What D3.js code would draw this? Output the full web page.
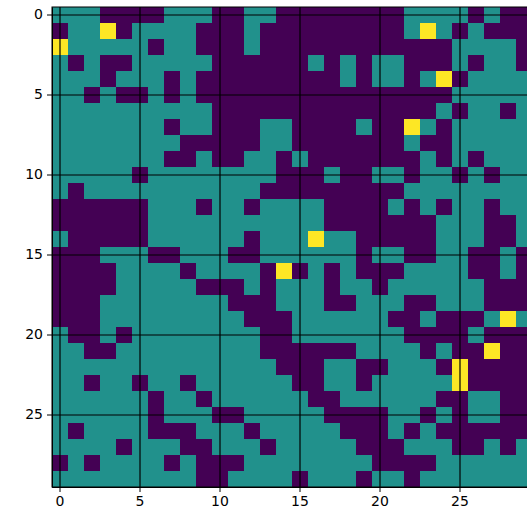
<!DOCTYPE html>
<html>
<head>
<meta charset="utf-8">
<script src="https://cdn.jsdelivr.net/npm/d3@7"></script>
<style>
  body { margin: 0; background: #fff; }
  svg { display: block; }
  .axis text { font-family: "DejaVu Sans", sans-serif; font-size: 14px; fill: #000; }
  .axis path, .axis line { stroke: #000; }
</style>
</head>
<body>
<svg id="chart"></svg>
<script>
// grid values: 0 = low, 1 = mid, 2 = high
const rows = [
    [1,1,1,0,0,0,0,1,1,1, 0,0,1,1,0,0,0,0,0,0, 0,0,1,1,1,1,0,1,0,0],
    [0,1,1,2,0,1,1,1,1,0, 0,0,1,0,0,0,0,0,0,0, 0,0,1,2,1,0,1,0,0,0],
    [2,1,1,1,1,1,0,1,1,0, 0,0,1,0,0,0,0,0,0,0, 0,0,0,0,0,1,1,1,1,0],
    [1,0,1,0,0,1,1,1,1,1, 0,0,0,0,0,0,1,0,1,0, 1,1,0,0,0,1,0,1,1,0],
    [1,1,1,0,1,1,1,0,1,0, 0,0,0,0,0,0,0,0,1,0, 1,1,0,1,2,0,1,1,1,1],
    [1,1,0,1,0,0,1,0,1,0, 0,0,0,0,0,0,0,0,0,0, 0,0,0,0,0,1,1,1,1,1],
    [1,1,1,1,1,1,1,1,1,1, 0,0,0,0,0,0,0,0,0,0, 0,0,0,0,1,0,1,1,0,1],
    [1,1,1,1,1,1,1,0,1,1, 0,0,0,1,1,0,0,0,0,1, 0,0,2,1,0,1,1,1,1,1],
    [1,1,1,1,1,1,1,1,0,0, 0,0,0,1,1,0,0,0,0,0, 0,0,1,0,0,1,1,1,1,1],
    [1,1,1,1,1,1,1,0,0,1, 0,0,1,1,0,1,0,0,0,0, 0,0,0,1,0,1,0,1,1,1],
    [1,1,1,1,1,0,1,1,1,1, 1,1,1,1,0,0,0,1,0,0, 1,1,0,1,1,0,1,0,1,1],
    [1,0,1,1,1,1,1,1,1,1, 1,1,1,0,0,0,0,0,0,0, 0,0,1,1,1,1,1,1,1,1],
    [0,0,0,0,0,0,1,1,1,0, 1,1,0,1,1,1,1,0,0,0, 0,1,0,1,0,1,1,0,1,1],
    [0,0,0,0,0,0,1,1,1,1, 1,1,1,1,1,1,1,0,0,0, 0,0,0,0,1,1,1,0,0,1],
    [1,0,0,0,0,0,1,1,1,1, 1,1,0,1,1,1,2,1,1,0, 0,0,0,0,1,1,1,0,0,1],
    [0,0,0,1,1,1,0,0,1,1, 1,0,0,1,1,1,1,1,1,0, 1,1,0,0,1,1,0,0,1,0],
    [0,0,0,0,1,1,1,1,0,1, 1,1,1,0,2,0,1,0,1,0, 0,0,1,1,1,1,0,0,1,0],
    [0,0,0,0,1,1,1,1,1,0, 0,0,1,0,1,1,1,0,1,1, 0,1,1,1,1,1,1,0,0,0],
    [0,0,0,1,1,1,1,1,1,1, 1,0,0,0,1,1,1,0,0,1, 1,1,0,0,1,1,1,0,0,0],
    [0,0,0,1,1,1,1,1,1,1, 1,1,0,0,0,1,1,1,1,1, 1,0,0,1,0,0,0,1,2,1],
    [1,0,0,1,0,1,1,1,1,1, 1,1,1,0,0,1,1,1,1,1, 1,1,0,0,0,0,1,0,0,0],
    [1,1,0,0,1,1,1,1,1,1, 1,1,1,0,0,0,0,0,0,1, 1,1,1,0,1,0,0,2,0,0],
    [1,1,1,1,1,1,1,1,1,1, 1,1,1,1,0,0,0,1,1,0, 0,1,1,1,0,2,0,0,0,0],
    [1,1,0,1,1,0,1,1,0,1, 1,1,1,1,1,0,0,1,1,0, 1,1,1,1,1,2,0,0,0,0],
    [1,1,1,1,1,1,0,1,1,0, 1,1,1,1,1,1,0,0,1,1, 1,1,1,1,0,0,1,1,0,0],
    [1,1,1,1,1,1,0,1,1,1, 0,0,1,1,1,1,1,0,0,0, 0,1,1,0,1,0,1,1,0,0],
    [1,0,1,1,1,1,0,0,0,1, 1,1,0,1,1,1,1,1,0,0, 0,1,0,1,0,0,0,0,0,0],
    [1,1,1,1,0,1,1,1,0,0, 1,1,1,0,1,1,1,1,1,0, 0,0,1,1,1,0,0,1,0,1],
    [0,1,0,1,1,1,1,0,1,0, 0,0,1,1,1,1,1,1,1,1, 0,0,0,0,1,1,1,1,1,1],
    [1,1,1,1,1,1,1,1,1,0, 0,1,1,1,1,0,1,1,1,0, 1,1,0,1,1,1,1,1,1,1]
];
const tickValues = [0, 5, 10, 15, 20, 25];
const levels = [0, 1, 2];
const levelColors = ["#440154", "#21918c", "#fde725"];

const W = 527, H = 520;
const margin = {top: 7, left: 52};
const cell = 16;
const n = rows.length;
const size = n * cell;

const svg = d3.select("#chart").attr("width", W).attr("height", H);

const x = d3.scaleBand().domain(d3.range(n)).range([margin.left, margin.left + size]);
const y = d3.scaleBand().domain(d3.range(n)).range([margin.top, margin.top + size]);
const color = d3.scaleOrdinal().domain(levels).range(levelColors);

// flatten to cells
const cells = [];
rows.forEach((r, i) => r.forEach((v, j) => cells.push({row: i, col: j, v})));

svg.append("g")
    .selectAll("rect")
    .data(cells)
    .enter()
    .append("rect")
    .attr("x", d => x(d.col))
    .attr("y", d => y(d.row))
    .attr("width", x.bandwidth() + 0.5)
    .attr("height", y.bandwidth() + 0.5)
    .attr("fill", d => color(d.v))
    .attr("shape-rendering", "crispEdges");

// grid lines through tick centres
const half = x.bandwidth() / 2;
const grid = svg.append("g").attr("stroke", "#000").attr("stroke-width", 1.2);
grid.selectAll(".vx")
    .data(tickValues)
    .enter()
    .append("line")
    .attr("x1", d => x(d) + half).attr("x2", d => x(d) + half)
    .attr("y1", margin.top).attr("y2", margin.top + size);
grid.selectAll(".hy")
    .data(tickValues)
    .enter()
    .append("line")
    .attr("y1", d => y(d) + half).attr("y2", d => y(d) + half)
    .attr("x1", margin.left).attr("x2", margin.left + size);

// axes
svg.append("g")
    .attr("class", "axis")
    .attr("transform", `translate(0,${margin.top + size})`)
    .call(d3.axisBottom(x).tickValues(tickValues).tickSize(5).tickPadding(4).tickSizeOuter(0));

svg.append("g")
    .attr("class", "axis")
    .attr("transform", `translate(${margin.left},0)`)
    .call(d3.axisLeft(y).tickValues(tickValues).tickSize(5).tickPadding(4).tickSizeOuter(0));

// frame
svg.append("rect")
    .attr("x", margin.left).attr("y", margin.top)
    .attr("width", size).attr("height", size)
    .attr("fill", "none").attr("stroke", "#000").attr("stroke-width", 1);
</script>
</body>
</html>
